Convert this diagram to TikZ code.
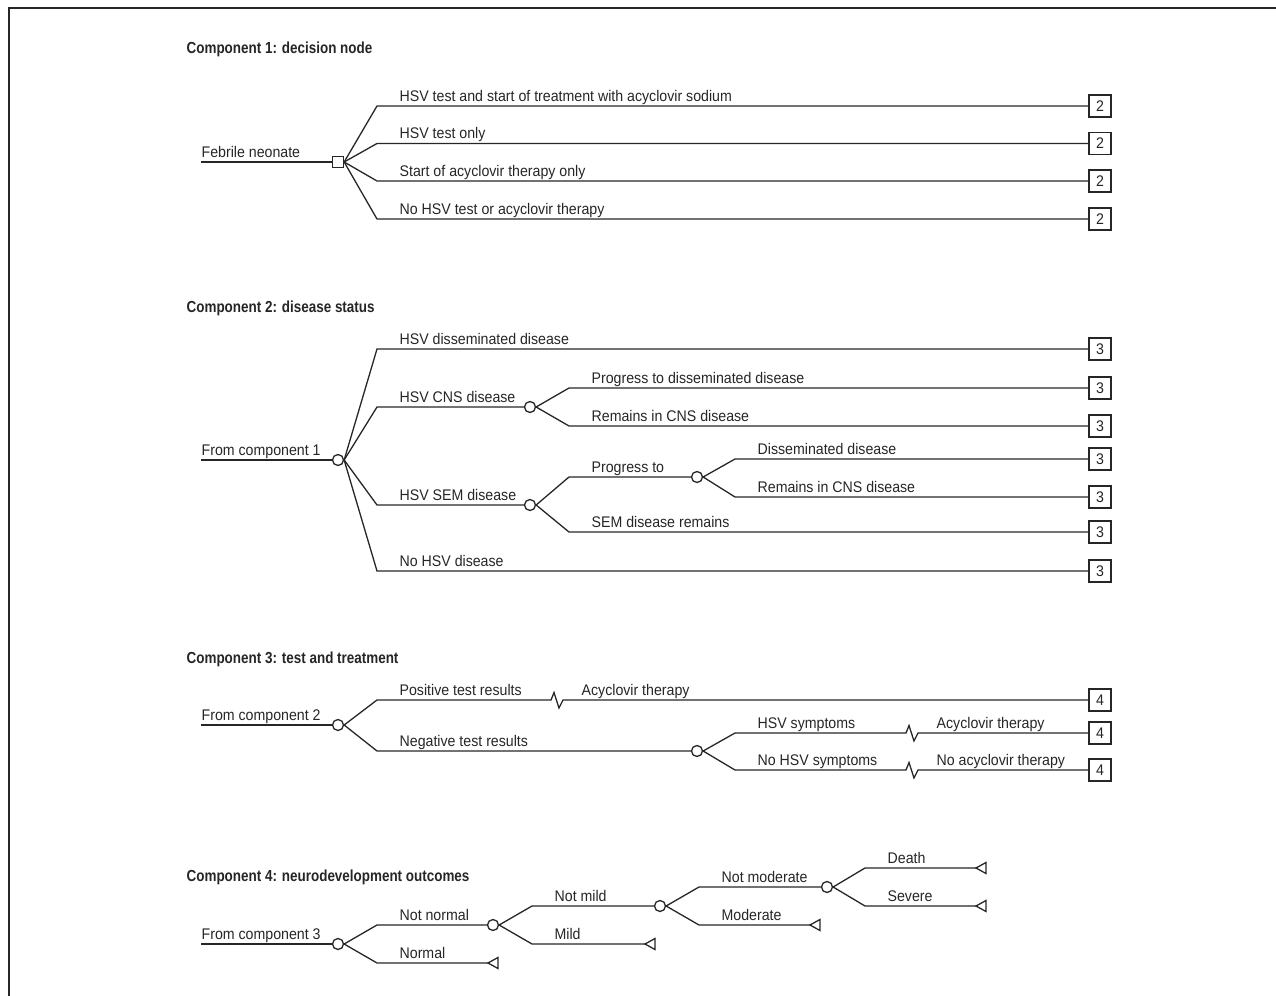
\documentclass[tikz,border=0pt]{standalone}
\usepackage{fontspec}
\setmainfont{Liberation Sans}[FakeStretch=0.92]
\newfontfamily\headfont{Liberation Sans}[FakeStretch=0.84]

\tikzset{
  lbl/.style={anchor=base west, inner sep=0pt, xshift=11pt, yshift=2.5pt},
  lbl0/.style={anchor=base west, inner sep=0pt, yshift=2.5pt},
  zlbl/.style={anchor=base west, inner sep=0pt, xshift=9pt, yshift=2.5pt},
  head/.style={anchor=base west, inner sep=0pt, font=\headfont\bfseries\fontsize{8}{9}\selectfont},
  chance/.style={circle, draw, fill=white, minimum size=5.5pt, inner sep=0pt},
  decide/.style={rectangle, draw, fill=white, minimum size=5.5pt, inner sep=0pt},
  endbox/.style={rectangle, draw, fill=white, minimum size=11pt, inner sep=0pt},
  pics/leaf/.style={code={\draw (0,0) -- (10,-5.5) -- (10,5.5) -- cycle;}}
}
% zigzag break on a branch
\newcommand\zig{-- ++(3,-7.5) -- ++(5,15.5) -- ++(4,-8)}

\begin{document}
\begin{tikzpicture}[x=0.5pt, y=-0.5pt, line width=0.65pt, color=black!85,
  every node/.append style={font=\fontsize{7.7}{9}\selectfont}]
  \useasboundingbox (0,0) rectangle (1276,996);
  \draw[line width=1pt] (9,996) -- (9,8) -- (1276,8);

  % component 1
  \node[head] at (186,53) {Component 1: decision node};
  \coordinate (s1) at (201,162);
  \node[decide] (d1) at (338,162) {};
  \draw (s1) node[lbl0] {Febrile neonate} -- (d1);
  \foreach \y/\t [count=\i] in {106/HSV test and start of treatment with acyclovir sodium,
      143.5/HSV test only, 181/Start of acyclovir therapy only, 219/No HSV test or acyclovir therapy} {
    \coordinate (k1-\i) at (377,\y);
    \node[endbox] (b1-\i) at (1100,\y) {2};
    \draw (d1.east) -- (k1-\i) node[lbl] {\t} -- (b1-\i);
  }

  % component 2
  \node[head] at (186,312) {Component 2: disease status};
  \coordinate (s2) at (201,460);
  \node[chance] (c2) at (338,460) {};
  \draw (s2) node[lbl0] {From component 1} -- (c2);
  \foreach \y/\n in {349/dis, 388/cnsp, 426/cnsr, 459/semd, 497/semr, 532/sems, 571/none}
    \node[endbox] (b2-\n) at (1100,\y) {3};
  \node[chance] (cns) at (530,407) {};
  \node[chance] (sem) at (530,505) {};
  \node[chance] (prog) at (697,477) {};
  \coordinate (k2-dis) at (377,349);
  \coordinate (k2-cns) at (377,407);
  \coordinate (k2-sem) at (377,505);
  \coordinate (k2-none) at (377,571);
  \coordinate (k2-cnsp) at (569,388);
  \coordinate (k2-cnsr) at (569,426);
  \coordinate (k2-prog) at (569,477);
  \coordinate (k2-sems) at (569,532);
  \coordinate (k2-semd) at (735,459);
  \coordinate (k2-semr) at (735,497);
  \draw (c2.east) -- (k2-dis) node[lbl] {HSV disseminated disease} -- (b2-dis);
  \draw (c2.east) -- (k2-cns) node[lbl] {HSV CNS disease} -- (cns);
  \draw (c2.east) -- (k2-sem) node[lbl] {HSV SEM disease} -- (sem);
  \draw (c2.east) -- (k2-none) node[lbl] {No HSV disease} -- (b2-none);
  \draw (cns.east) -- (k2-cnsp) node[lbl] {Progress to disseminated disease} -- (b2-cnsp);
  \draw (cns.east) -- (k2-cnsr) node[lbl] {Remains in CNS disease} -- (b2-cnsr);
  \draw (sem.east) -- (k2-prog) node[lbl] {Progress to} -- (prog);
  \draw (sem.east) -- (k2-sems) node[lbl] {SEM disease remains} -- (b2-sems);
  \draw (prog.east) -- (k2-semd) node[lbl] {Disseminated disease} -- (b2-semd);
  \draw (prog.east) -- (k2-semr) node[lbl] {Remains in CNS disease} -- (b2-semr);

  % component 3
  \node[head] at (186,663) {Component 3: test and treatment};
  \coordinate (s3) at (201,725);
  \node[chance] (c3) at (338,725) {};
  \draw (s3) node[lbl0] {From component 2} -- (c3);
  \foreach \y/\n in {700/pos, 733/sym, 770/nosym}
    \node[endbox] (b3-\n) at (1100,\y) {4};
  \node[chance] (neg) at (697,751) {};
  \coordinate (k3-pos) at (377,700);
  \coordinate (k3-neg) at (377,751);
  \coordinate (k3-sym) at (735,733);
  \coordinate (k3-nosym) at (735,770);
  \draw (c3.east) -- (k3-pos) node[lbl] {Positive test results}
    -- (551,700) \zig node[zlbl] {Acyclovir therapy} -- (b3-pos);
  \draw (c3.east) -- (k3-neg) node[lbl] {Negative test results} -- (neg);
  \draw (neg.east) -- (k3-sym) node[lbl] {HSV symptoms}
    -- (906,733) \zig node[zlbl] {Acyclovir therapy} -- (b3-sym);
  \draw (neg.east) -- (k3-nosym) node[lbl] {No HSV symptoms}
    -- (906,770) \zig node[zlbl] {No acyclovir therapy} -- (b3-nosym);

  % component 4
  \node[head] at (186,881) {Component 4: neurodevelopment outcomes};
  \coordinate (s4) at (201,944);
  \node[chance] (c4) at (338,944) {};
  \draw (s4) node[lbl0] {From component 3} -- (c4);
  \node[chance] (nnorm) at (493,925) {};
  \node[chance] (nmild) at (660,906) {};
  \node[chance] (nmod) at (827,887) {};
  \coordinate (k4-nnorm) at (377,925);
  \coordinate (k4-norm) at (377,963);
  \coordinate (k4-nmild) at (532,906);
  \coordinate (k4-mild) at (532,944);
  \coordinate (k4-nmod) at (699,887);
  \coordinate (k4-mod) at (699,925);
  \coordinate (k4-death) at (865,868);
  \coordinate (k4-sev) at (865,906);
  \coordinate (t4-norm) at (488,963);
  \coordinate (t4-mild) at (645,944);
  \coordinate (t4-mod) at (810,925);
  \coordinate (t4-death) at (976,868);
  \coordinate (t4-sev) at (976,906);
  \draw (c4.east) -- (k4-nnorm) node[lbl] {Not normal} -- (nnorm);
  \draw (c4.east) -- (k4-norm) node[lbl] {Normal} -- (t4-norm);
  \draw (nnorm.east) -- (k4-nmild) node[lbl] {Not mild} -- (nmild);
  \draw (nnorm.east) -- (k4-mild) node[lbl] {Mild} -- (t4-mild);
  \draw (nmild.east) -- (k4-nmod) node[lbl] {Not moderate} -- (nmod);
  \draw (nmild.east) -- (k4-mod) node[lbl] {Moderate} -- (t4-mod);
  \draw (nmod.east) -- (k4-death) node[lbl] {Death} -- (t4-death);
  \draw (nmod.east) -- (k4-sev) node[lbl] {Severe} -- (t4-sev);
  \foreach \n in {norm, mild, mod, death, sev}
    \pic at (t4-\n) {leaf};
\end{tikzpicture}
\end{document}
